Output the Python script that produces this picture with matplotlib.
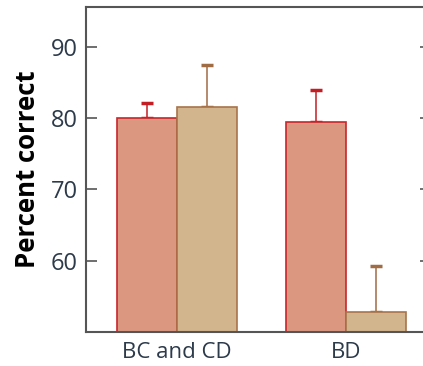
import matplotlib
matplotlib.use('Agg')
import matplotlib.pyplot as plt
import numpy as np

# mean percent correct and upper error per condition
groups = ['BC and CD', 'BD']
red_vals = [80.0, 79.5]
red_err = [2.2, 4.5]
tan_vals = [81.5, 52.8]
tan_err = [5.9, 6.4]
yticks = [60, 70, 80, 90]

plt.rcParams['font.family'] = ['Open Sans', 'DejaVu Sans']

fig = plt.figure(figsize=(4.23, 3.66), dpi=100)
ax = fig.add_axes([86 / 423, 34 / 366, 345 / 423, 325 / 366])

x = np.arange(len(groups))
w = 0.355
ax.bar(x - w / 2, red_vals, w, color='#dc9781', edgecolor='#c8262c',
       linewidth=1.2, zorder=2)
ax.bar(x + w / 2, tan_vals, w, color='#d3b58d', edgecolor='#a8744c',
       linewidth=1.2, zorder=2)

# upper-only error bars
ax.errorbar(x - w / 2, red_vals, yerr=[np.zeros(2), red_err], fmt='none',
            ecolor='#c41e24', elinewidth=1.1, capsize=4.5, capthick=2.5, zorder=1)
ax.errorbar(x + w / 2, tan_vals, yerr=[np.zeros(2), tan_err], fmt='none',
            ecolor='#a06c44', elinewidth=1.1, capsize=4.5, capthick=2.5, zorder=1)

ax.set_ylim(50, 95.6)
ax.set_xlim(-0.538, 1.501)
ax.set_yticks(yticks)
ax.set_xticks(x)
ax.set_xticklabels(groups)

for s in ['left', 'top', 'bottom']:
    ax.spines[s].set_color('#555555')
    ax.spines[s].set_linewidth(1.5)
ax.spines['right'].set_visible(False)

ax.tick_params(axis='y', direction='in', length=8, width=1.2, color='#555555',
               right=True, labelsize=17, labelcolor='#2c3a4a', pad=6)
ax.tick_params(axis='x', length=0, labelsize=16, labelcolor='#2c3a4a', pad=7)

ax.set_ylabel('Percent correct', fontsize=18.5, fontweight='bold', color='black',
              labelpad=7)

fig.savefig('out.png', dpi=100)
